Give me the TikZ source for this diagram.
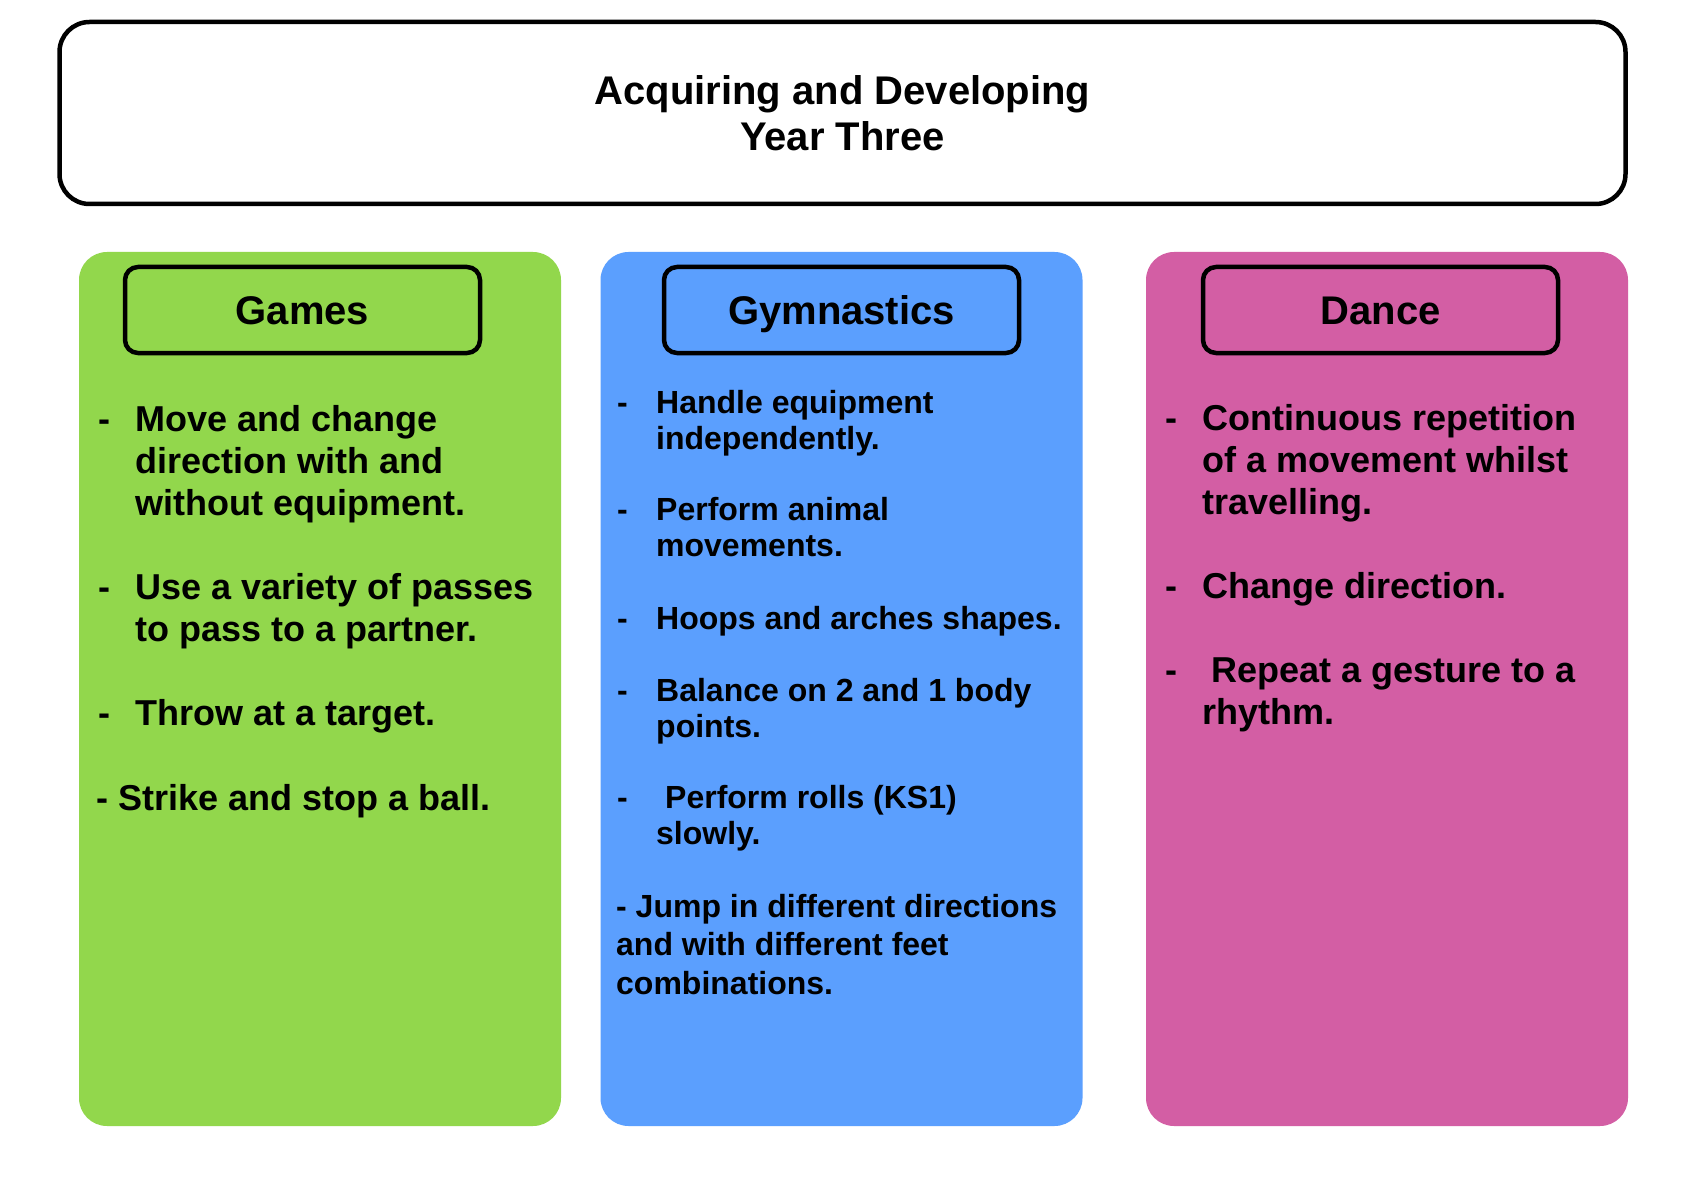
\documentclass[tikz,border=0pt]{standalone}
\usepackage{fontspec}
\setmainfont{Liberation Sans}
\definecolor{gGreen}{RGB}{146,215,76}
\definecolor{gBlue}{RGB}{91,159,254}
\definecolor{gPink}{RGB}{211,94,164}
\begin{document}
\begin{tikzpicture}[x=1pt,y=-1pt,
 panel/.style={rounded corners=28pt, minimum width=482pt, minimum height=874pt, inner sep=0pt},
 head/.style={draw=black, line width=4.5pt, rounded corners=13pt, minimum width=355pt, minimum height=86pt, inner sep=0pt, text height=29pt, text depth=0pt, font=\fontsize{40}{46}\selectfont\bfseries},
 big/.style={anchor=base west, inner sep=0pt, align=left, font=\fontsize{36}{42.3}\selectfont\bfseries},
 small/.style={anchor=base west, inner sep=0pt, align=left, font=\fontsize{32}{36}\selectfont\bfseries},
 smallj/.style={anchor=base west, inner sep=0pt, align=left, font=\fontsize{32}{38.5}\selectfont\bfseries},
]
\useasboundingbox[fill=white] (0,0) rectangle (1684,1190);

% title
\node[draw=black, line width=4.5pt, rounded corners=30pt, minimum width=1566pt, minimum height=182pt, inner sep=0pt, align=center, font=\fontsize{40}{46}\selectfont\bfseries] (title) at (842.5,113) {Acquiring and Developing\\Year Three};

% panels
\node[panel, fill=gGreen] (games) at (320,689) {};
\node[panel, fill=gBlue] (gym) at (841.5,689) {};
\node[panel, fill=gPink] (dance) at (1387,689) {};

% headers
\node[head] (hgames) at (302.5,310) {Games};
\node[head] (hgym) at (841.5,310) {Gymnastics};
\node[head] (hdance) at (1380.5,310) {Dance};

% Games items (multi-line nodes: base = last line)
\node[big] (gd1) at (98,431) {-};
\node[big] (g1) at (135,515.6) {Move and change\\direction with and\\without equipment.};
\node[big] (gd2) at (98,599) {-};
\node[big] (g2) at (135,641.3) {Use a variety of passes\\to pass to a partner.};
\node[big] (gd3) at (98,725) {-};
\node[big] (g3) at (135,725) {Throw at a target.};
\node[big] (g4) at (96,810) {- Strike and stop a ball.};

% Gymnastics items
\node[small] (yd1) at (617,413) {-};
\node[small] (y1) at (656,449) {Handle equipment\\independently.};
\node[small] (yd2) at (617,520) {-};
\node[small] (y2) at (656,556) {Perform animal\\movements.};
\node[small] (yd3) at (617,629) {-};
\node[small] (y3) at (656,629) {Hoops and arches shapes.};
\node[small] (yd4) at (617,701) {-};
\node[small] (y4) at (656,737) {Balance on 2 and 1 body\\points.};
\node[small] (yd5) at (617,808) {-};
\node[small] (y5) at (656,844) {\hspace*{9pt}Perform rolls (KS1)\\slowly.};
\node[smallj] (y6) at (616,994) {- Jump in different directions\\and with different feet\\combinations.};

% Dance items
\node[big] (dd1) at (1165,430) {-};
\node[big] (d1) at (1202,514.6) {Continuous repetition\\of a movement whilst\\travelling.};
\node[big] (dd2) at (1165,598) {-};
\node[big] (d2) at (1202,598) {Change direction.};
\node[big] (dd3) at (1165,682) {-};
\node[big] (d3) at (1202,724.3) {\hspace*{9pt}Repeat a gesture to a\\rhythm.};
\end{tikzpicture}
\end{document}
